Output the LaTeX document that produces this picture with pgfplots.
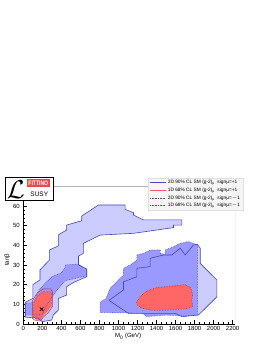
\documentclass[border=0pt]{standalone}
\usepackage{fontspec}
\setmainfont{Liberation Sans}
\usepackage{graphicx}
\usepackage{pgfplots}
\usepackage{pgfplotstable}
\pgfplotsset{compat=1.18}
\definecolor{lblue}{RGB}{204,204,255}
\definecolor{mblue}{RGB}{153,153,255}
\definecolor{lred}{RGB}{255,102,102}
\definecolor{dblue}{RGB}{70,70,190}
\definecolor{dred}{RGB}{190,50,50}
\definecolor{logored}{RGB}{240,70,70}

\pgfplotstableread{
x y
20 3.5
20 11
100 13
100 20
175 22.4
175 27.5
274 32.5
274 37.6
368 39.7
368 45.3
456 47.8
456 50.3
614 52.5
614 54.9
790 60.5
1070 60.5
1070 58.3
1158 56.6
1158 55.4
1263 52.9
1667 52.9
1667 50.3
1579 50.3
1579 49
1158 46.1
807 45.2
632 41
632 35.9
580 34.5
580 30
667 28
667 24
544 21.5
456 19
456 14.7
369 13
369 7.1
316 4.6
298 2
200 1.2
150 3
20 3.5
}\PA

\pgfplotstableread{
x y
900 12
1053 17.3
1053 21.5
1193 24
1193 28.3
1333 29.2
1333 33.4
1474 35.1
1561 35.1
1649 38.5
1702 35.1
1789 40.2
1830 40.5
1860 38.5
1860 30.8
1947 26.6
2035 22.4
2035 13.9
1930 8.8
1842 4.6
1667 3.7
1600 5.4
1105 5.4
900 12
}\PB

\pgfplotstableread{
x y
807 5.8
807 11
870 13
912 18.1
982 21.5
1053 24.9
1053 28.3
1123 30
1193 32.5
1193 35.1
1263 35.9
1333 37.6
1439 37.6
1439 35.9
1491 35.4
1491 37.6
1579 39.3
1649 41
1737 41.9
1832 40.2
1832 4.6
1700 4.2
1500 4.5
1300 3.8
1250 5.5
807 5.8
}\PC

\pgfplotstableread{
x y
579 30.5
667 27.5
667 24.5
440 22
351 17
250 10
200 5
100 4.5
20 4.5
20 10.4
105 11
176 18
300 24
400 26
439 28.5
439 30
579 30.5
}\PD

\pgfplotstableread{
x y
105 3.8
110 11
158 14.7
211 16.5
281 16.5
298 15.6
298 9.6
263 7.1
211 4.6
175 2
130 2.5
105 3.8
}\PE

\pgfplotstableread{
x y
95 3
98 12
150 16
211 17.8
290 17.8
308 16
308 9
265 6
211 3.5
175 1.5
120 2
95 3
}\PF

\pgfplotstableread{
x y
1190 11
1230 14
1290 16.5
1340 17.5
1400 18.5
1500 19
1600 19.5
1700 20
1760 18.5
1780 15
1770 12
1780 9
1740 8
1650 7.5
1500 7
1350 7
1250 8
1200 9.5
1190 11
}\PH

\begin{document}
\begin{tikzpicture}
\path[use as bounding box] (-23.3pt,-20pt) rectangle (242.7pt,324pt);
\begin{axis}[
  at={(0pt,0pt)}, anchor=south west,
  scale only axis, width=211.7pt, height=137.7pt,
  xmin=0, xmax=2225, ymin=0, ymax=70,
  axis x line*=bottom, axis y line*=left,
  axis line style={black, line width=0.5pt, -},
  xtick={0,200,...,2200}, ytick={0,10,...,60},
  minor x tick num=3, minor y tick num=4,
  tick align=inside,
  major tick length=3.5pt, minor tick length=2pt,
  tick style={black, line width=0.4pt},
  tick label style={font=\fontsize{6}{6.5}\selectfont},
  xticklabel style={yshift=1pt},
  /pgf/number format/assume math mode=true,
  /pgf/number format/1000 sep={},
  xlabel={M\textsubscript{0} (GeV)}, ylabel={tanβ},
  label style={font=\fontsize{6}{6.5}\selectfont},
  xlabel style={at={(axis description cs:0.495,-0.091)}, anchor=center},
  ylabel style={at={(axis description cs:-0.0756,0.465)}, anchor=center},
  legend style={at={(axis description cs:0.589,1.060)}, anchor=north west,
    fill=gray!8, draw=gray!25, line width=0.3pt,
    font=\fontsize{4.8}{5}\selectfont, inner xsep=1.5pt, inner ysep=1pt,
    row sep=0.5pt,
    nodes={inner ysep=1.3pt, inner xsep=1.5pt, text height=3.5pt, text depth=1pt}},
  legend cell align=left,
  legend image code/.code={\draw[#1] (0pt,0pt) -- (16pt,0pt);},
]
% fills
\addplot[fill=lblue, draw=none, forget plot] table {\PA};
\addplot[fill=lblue, draw=none, forget plot] table {\PB};
\addplot[fill=mblue, draw=none, forget plot] table {\PC};
\addplot[fill=mblue, draw=none, forget plot] table {\PD};
\addplot[fill=lred, draw=none, forget plot] table {\PE};
\addplot[fill=lred, draw=none, forget plot] table {\PH};
% outlines
\addplot[dblue, line width=0.6pt, forget plot] table {\PA};
\addplot[dblue, line width=0.6pt, forget plot] table {\PB};
\addplot[dblue, densely dotted, line width=0.6pt, forget plot] table {\PC};
\addplot[dblue, densely dotted, line width=0.6pt, forget plot] table {\PD};
\addplot[dred, line width=0.5pt, forget plot] table {\PF};
\addplot[dred, densely dotted, line width=0.5pt, forget plot] table {\PE};
\addplot[dred, densely dotted, line width=0.6pt, forget plot] table {\PH};
\addplot[only marks, mark=x, mark size=2.5pt, black, line width=0.7pt, forget plot] coordinates {(193,7.5)};
% frame top and right
\draw[gray!60, line width=0.4pt] (rel axis cs:0,1) -- (rel axis cs:1,1) -- (rel axis cs:1,0);
% legend
\addlegendimage{dblue, line width=0.7pt}
\addlegendentry{2D 90\% CL SM (g-2)\textsubscript{μ}\ \ signμ=+1}
\addlegendimage{lred!80!dred, line width=0.7pt}
\addlegendentry{1D 68\% CL SM (g-2)\textsubscript{μ}\ \ signμ=+1}
\addlegendimage{dblue, densely dotted, line width=0.6pt}
\addlegendentry{2D 90\% CL SM (g-2)\textsubscript{μ}\ \ signμ=$-$1}
\addlegendimage{dred, densely dotted, line width=0.6pt}
\addlegendentry{1D 68\% CL SM (g-2)\textsubscript{μ}\ \ signμ=$-$1}
\end{axis}
% logo
\draw[black, line width=0.8pt, fill=white] (-18.3pt,123.3pt) rectangle (29.7pt,147pt);
\fill[logored] (3.4pt,136.7pt) rectangle (26.7pt,144.7pt);
\node[white, font=\bfseries\fontsize{6.5}{6.5}\selectfont, inner sep=0] at (15pt,140.7pt) {\scalebox{0.78}[1]{FITTINO}};
\node[font=\fontsize{6.5}{6.5}\selectfont, inner sep=0] at (16pt,130.2pt) {SUSY};
\node[inner sep=0] at (-7.5pt,134.5pt) {\scalebox{2.6}{$\mathcal{L}$}};
\end{tikzpicture}
\end{document}
